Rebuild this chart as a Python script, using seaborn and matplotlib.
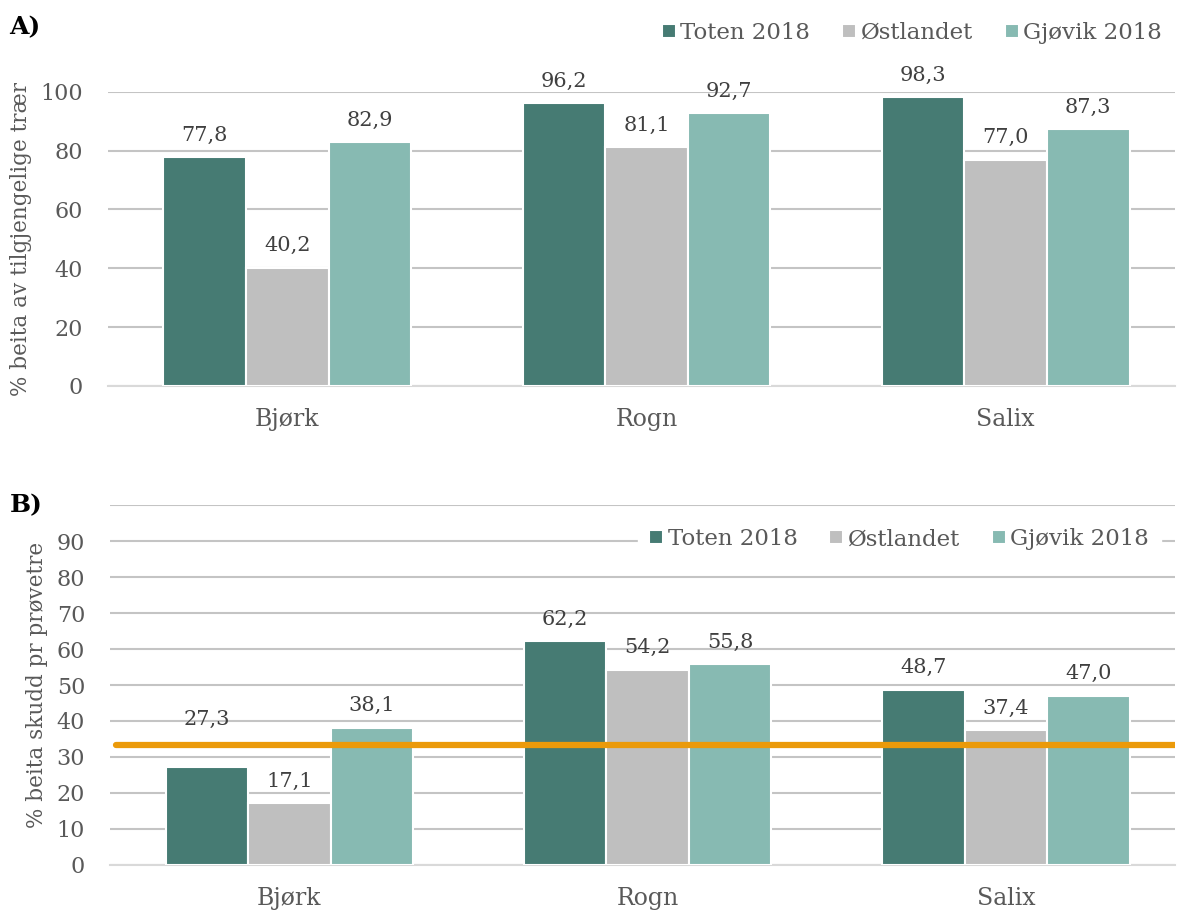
import numpy as np
import pandas as pd
import matplotlib
matplotlib.use("Agg")
import matplotlib.pyplot as plt
import seaborn as sns

# Data
arter = ["Bjørk", "Rogn", "Salix"]
serier = ["Toten 2018", "Østlandet", "Gjøvik 2018"]
farger = ["#467B73", "#BFBFBF", "#87BAB2"]

# A) % beita av tilgjengelige trær
a_toten = [77.8, 96.2, 98.3]
a_ostl = [40.2, 81.1, 77.0]
a_gjovik = [82.9, 92.7, 87.3]

# B) % beita skudd pr prøvetre
b_toten = [27.3, 62.2, 48.7]
b_ostl = [17.1, 54.2, 37.4]
b_gjovik = [38.1, 55.8, 47.0]
b_grense = 33.3  # oransje linje

sns.set_theme(style="white")
plt.rcParams['font.family'] = ['DejaVu Serif', 'DejaVu Sans']

tekst = "#595959"
grid = "#C4C4C4"


def lag_df(t, o, g):
    rows = []
    for s, vals in zip(serier, [t, o, g]):
        for a, v in zip(arter, vals):
            rows.append({"art": a, "serie": s, "verdi": v})
    return pd.DataFrame(rows)


def tegn(ax, df, ymax, ticks, ylabel):
    sns.barplot(data=df, x="art", y="verdi", hue="serie", order=arter,
                hue_order=serier, palette=farger, width=0.69, saturation=1,
                edgecolor="white", linewidth=1.5, ax=ax, zorder=3)
    alle = []
    for c in ax.containers:
        labels = [f"{v:.1f}".replace(".", ",") for v in c.datavalues]
        alle.append(ax.bar_label(c, labels=labels, padding=9, fontsize=15, color="#404040"))
    ax.set_ylim(0, ymax)
    ax.set_xlim(-0.5, 2.47)
    ax.set_yticks(ticks)
    ax.yaxis.grid(True, color=grid, linewidth=1.5, zorder=0)
    ax.set_axisbelow(True)
    for s in ["top", "right", "left"]:
        ax.spines[s].set_visible(False)
    ax.spines["bottom"].set_color("#D9D9D9")
    ax.spines["bottom"].set_linewidth(1.5)
    ax.tick_params(axis="x", length=0, pad=16, labelsize=17, labelcolor=tekst)
    ax.tick_params(axis="y", length=0, pad=18, labelsize=16, labelcolor=tekst)
    ax.set_xlabel("")
    ax.set_ylabel(ylabel, fontsize=15.5, color=tekst, labelpad=6)
    return alle


fig = plt.figure(figsize=(11.84, 9.10), dpi=100)

ax1 = fig.add_axes([0.091, 0.576, 0.901, 0.323])
tegn(ax1, lag_df(a_toten, a_ostl, a_gjovik), 100, [0, 20, 40, 60, 80, 100],
     "% beita av tilgjengelige trær")
ax1.legend(loc="center right", bbox_to_anchor=(0.997, 1.2), ncol=3, frameon=False,
           fontsize=16.5, labelcolor=tekst, handlelength=0.6, handleheight=0.6,
           handletextpad=0.2, columnspacing=1.4, borderaxespad=0)

ax2 = fig.add_axes([0.093, 0.0495, 0.899, 0.3955])
etiketter_b = tegn(ax2, lag_df(b_toten, b_ostl, b_gjovik), 100, list(range(0, 101, 10)),
                   "% beita skudd pr prøvetre")
# etiketten 27,3 er flyttet over den oransje linja
etiketter_b[0][0].xyann = (0, 27)
ax2.set_yticklabels([str(t) for t in range(0, 91, 10)] + [""])
ax2.axhline(b_grense, xmin=0.006, xmax=1.0, color="#EB9A0A", linewidth=4.5, zorder=5)
leg = ax2.legend(loc="center right", bbox_to_anchor=(0.987, 0.905), ncol=3, frameon=True,
                 fontsize=16.5, labelcolor=tekst, handlelength=0.6, handleheight=0.6,
                 handletextpad=0.2, columnspacing=1.4, borderaxespad=0, borderpad=0.5,
                 facecolor="white", edgecolor="white", framealpha=1, fancybox=False)
leg.set_zorder(6)

fig.text(0.008, 0.962, "A)", fontsize=18, fontweight="bold", color="black")
fig.text(0.008, 0.437, "B)", fontsize=18, fontweight="bold", color="black")

fig.savefig("out.png", dpi=100)
